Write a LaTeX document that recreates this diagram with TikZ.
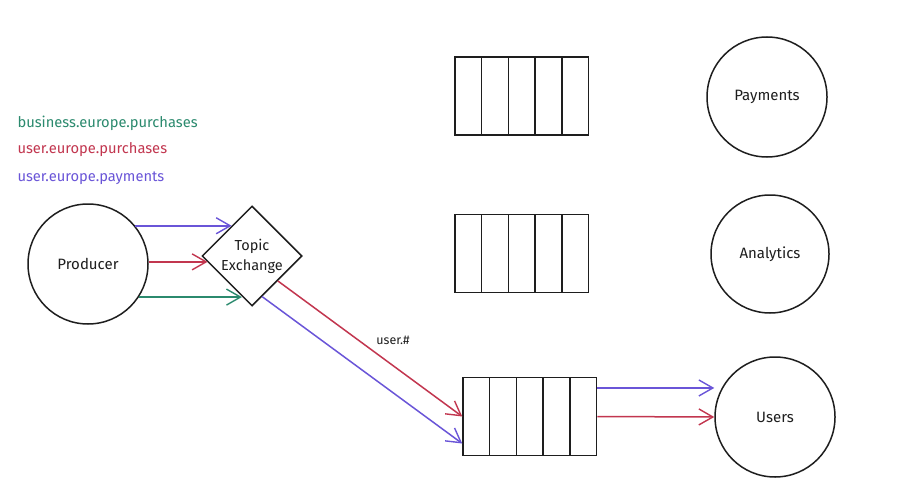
\documentclass[tikz,border=0pt]{standalone}
\usepackage{fontspec}
\setmainfont{Fira Sans}
\usetikzlibrary{shapes.geometric,arrows.meta,calc}
\definecolor{ink}{HTML}{1E1E1E}
\definecolor{cgreen}{HTML}{2B8A6E}
\definecolor{cred}{HTML}{C2364F}
\definecolor{cpurple}{HTML}{6A55D8}
\tikzset{
  x=1pt, y=-1pt,
  every node/.style={font=\fontsize{15}{17}\selectfont, text=ink},
  circ/.style={draw=ink, line width=1.5pt, circle, minimum size=120pt, inner sep=0pt},
  xch/.style={draw=ink, line width=1.5pt, diamond, aspect=1, minimum width=100pt, minimum height=100pt, inner sep=0pt, align=center, font=\fontsize{14.5}{20}\selectfont},
  cell/.style={draw=ink, line width=1.5pt, rectangle, minimum width=26.7pt, minimum height=78pt, inner sep=0pt},
  conn/.style={line width=1.5pt, -{Straight Barb[length=14pt,width=16pt,line width=1.4pt]}},
  legend/.style={anchor=west, font=\fontsize{14.7}{17}\selectfont},
}
\begin{document}
\begin{tikzpicture}
\fill[white] (0,0) rectangle (901,492);
\useasboundingbox (0,0) rectangle (901,492);

% legend
\node[legend, text=cgreen] (lg1) at (14,123) {business.europe.purchases};
\node[legend, text=cred] (lg2) at (14,150) {user.europe.purchases};
\node[legend, text=cpurple] (lg3) at (14,178) {user.europe.payments};

% main nodes
\node[circ] (prod) at (88,264) {Producer};
\node[xch] (ex) at (252,256) {Topic\\Exchange};
\node[circ] (pay) at (767,97) {Payments};
\node[circ, minimum size=118pt] (ana) at (770,254) {Analytics};
\node[circ] (users) at (775,417) {Users};

% queues
\foreach \q/\x/\y in {q1/455/96, q2/455/253.5, q3/463/416.5}{
  \foreach \i in {1,...,5}{
    \node[cell] (\q-\i) at ({\x+26.7*\i-13.35},\y) {};
  }
}

% producer -> exchange
\draw[conn, cpurple] (prod.39) -- (ex.124 |- prod.39);
\draw[conn, cred] (prod.2) -- (ex.188 |- prod.2);
\draw[conn, cgreen] (prod.-33) -- (ex.256 |- prod.-33);

% exchange -> users queue
\draw[conn, cred] (ex.-44) -- (q3-1.west);
\node[font=\fontsize{12.5}{14}\selectfont] (lbl) at (393,340) {user.\#};
\draw[conn, cpurple] (ex.-76) -- ($(q3-1.west)!0.68!(q3-1.south west)$);

% users queue -> Users
\coordinate (qp) at ($(q3-5.east)!0.718!(q3-5.north east)$);
\draw[conn, cpurple] (qp) -- (users.west |- qp);
\draw[conn, cred] (q3-5.east) -- (users.west);
\end{tikzpicture}
\end{document}
